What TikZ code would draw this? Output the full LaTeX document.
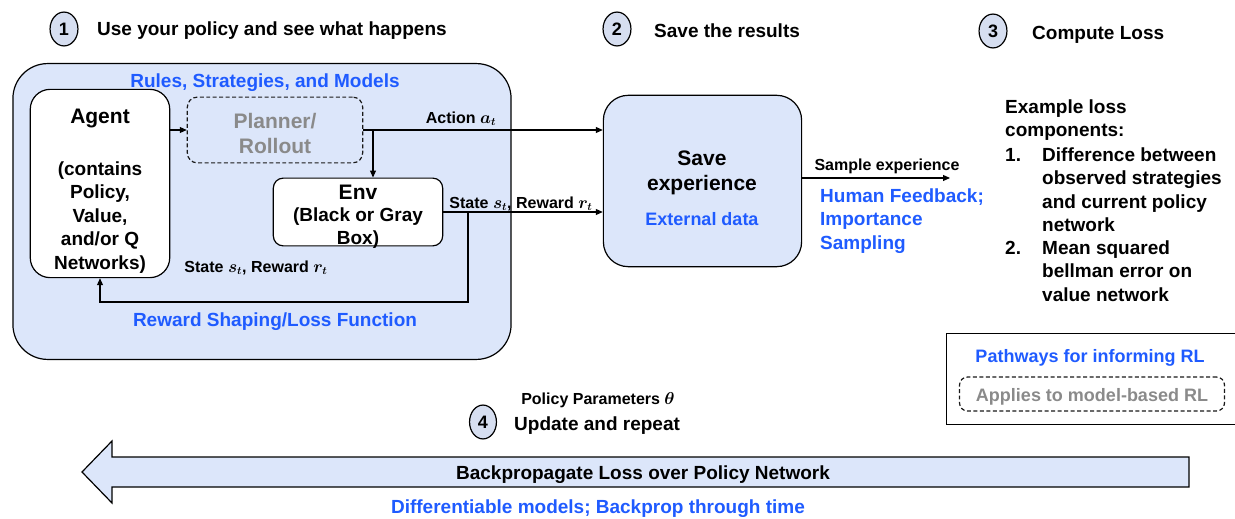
\documentclass[tikz,border=0pt]{standalone}
\usepackage{bm}
\usepackage{fontspec}
\setmainfont{Liberation Sans}
\usetikzlibrary{arrows.meta,shapes.geometric}
\definecolor{bgblue}{HTML}{DCE6FA}
\definecolor{circblue}{HTML}{D6DEF0}
\definecolor{txtblue}{HTML}{1F5BFF}
\definecolor{txtgray}{HTML}{8A8A8A}
\tikzset{
  fT/.style={font={\fontsize{19bp}{23.5bp}\selectfont\bfseries}},
  fL/.style={font={\fontsize{21bp}{25bp}\selectfont\bfseries}},
  fS/.style={font={\fontsize{16bp}{19bp}\selectfont\bfseries}},
  fB/.style={font={\fontsize{18bp}{22bp}\selectfont\bfseries}},
  txt/.style={inner sep=0pt, align=center, yshift=-2.5bp},
  numc/.style={ellipse, draw, line width=1.2pt, fill=circblue, minimum width=28pt, minimum height=34pt, inner sep=0pt, font={\fontsize{18bp}{20bp}\selectfont\bfseries}},
  rbox/.style={draw, line width=1.2pt, rounded corners=#1, inner sep=0pt},
  dbox/.style={draw=black!90, line width=1.2pt, dash pattern=on 4pt off 2.5pt, rounded corners=#1, inner sep=0pt},
  arr/.style={line width=1.1pt, -{Triangle[length=7pt,width=6pt]}},
}
\begin{document}
\begin{tikzpicture}[x=1bp,y=-1bp]
\useasboundingbox (0,0) rectangle (1235,519);
% titles
\node[numc] (c1) at (64,29) {1};
\node[txt,fT,anchor=west] (t1) at (97,28) {Use your policy and see what happens};
\node[numc] (c2) at (617,29) {2};
\node[txt,fT,anchor=west] (t2) at (654,28) {Save the results};
\node[numc] (c3) at (993,31) {3};
\node[txt,fT,anchor=west] (t3) at (1032,32) {Compute Loss};
% big box
\node[rbox=35pt, fill=bgblue, minimum width=500pt, minimum height=297pt] (big) at (262,211.5) {};
\node[txt,fT,text=txtblue] (rules) at (265,80) {Rules, Strategies, and Models};
% agent
\node[rbox=20pt, fill=white, minimum width=140pt, minimum height=189pt] (agent) at (100,183.5) {};
\node[txt,fL] (agentT) at (100,116) {Agent};
\node[txt,fT] (agentB) at (100,215) {(contains\\Policy,\\Value,\\and/or Q\\Networks)};
% planner
\node[dbox=10pt, minimum width=176pt, minimum height=66pt] (planner) at (275,130) {};
\node[txt,fL,text=txtgray] (plannerT) at (275,131) {Planner/\\Rollout};
% env
\node[rbox=10pt, fill=white, minimum width=170pt, minimum height=68pt] (env) at (358,212) {};
\node[txt,fL] (envT) at (358,190) {Env};
\node[txt,fT] (envB) at (358,225.5) {(Black or Gray\\Box)};
% save
\node[rbox=25pt, fill=bgblue, minimum width=199pt, minimum height=172pt] (save) at (702.5,181) {};
\node[txt,fL] (saveT) at (702,170) {Save\\experience};
\node[txt,fB,text=txtblue] (ext) at (702,217) {External data};
% connectors
\draw[arr] (agent.east |- planner.west) -- (planner.west);
\draw[arr] (planner.east) -- (planner.east -| save.west);
\coordinate (jn) at (373,130);
\draw[arr] (jn) -- (jn |- env.north);
\draw[arr] (env.east) -- (env.east -| save.west);
\coordinate (fb) at (468,212);
\coordinate (fbc) at (100,302);
\draw[arr] (fb) |- (fbc) -- (agent.south);
\coordinate (se) at (950,178);
\draw[arr] (save.east |- se) -- (se);
% labels
\node[txt,fS] (actL) at (461,116) {Action $\bm{a_t}$};
\node[txt,fS] (stL1) at (521,201) {State $\bm{s_t}$, Reward $\bm{r_t}$};
\node[txt,fS] (stL2) at (256,265) {State $\bm{s_t}$, Reward $\bm{r_t}$};
\node[txt,fT,text=txtblue] (rs) at (275,319) {Reward Shaping/Loss Function};
\node[txt,fS] (sampL) at (887,164) {Sample experience};
\node[txt,fT,text=txtblue,align=left,anchor=west] (hf) at (820,218.5) {Human Feedback;\\Importance\\Sampling};
% loss list
\node[txt,fT,align=left,anchor=west] (ex) at (1005,117.5) {Example loss\\components:};
\node[txt,fT,anchor=west] (n1) at (1005,152) {1.};
\node[txt,fT,align=left,anchor=west] (l1) at (1042,187) {Difference between\\observed strategies\\and current policy\\network};
\node[txt,fT,anchor=west] (n2) at (1005,245) {2.};
\node[txt,fT,align=left,anchor=west] (l2) at (1042,268.5) {Mean squared\\bellman error on\\value network};
% legend
\node[draw, line width=1pt, minimum width=294pt, minimum height=92pt, inner sep=0pt] (legend) at (1093,379) {};
\node[txt,fB,text=txtblue] (pw) at (1090,355) {Pathways for informing RL};
\node[dbox=8pt, minimum width=266pt, minimum height=34pt] (legd) at (1092,394) {};
\node[txt,fB,text=txtgray] (legdT) at (1092,394) {Applies to model-based RL};
% step 4
\node[txt,fS] (pp) at (598,398) {Policy Parameters $\bm{\theta}$};
\node[numc, minimum width=27pt] (c4) at (483,422) {4};
\node[txt,fT,anchor=west] (t4) at (514,423) {Update and repeat};
\draw[line width=1.2pt, fill=bgblue, line join=miter] (82,472) -- (112,441) -- (112,457) -- (1189,457) -- (1189,487) -- (112,487) -- (112,503) -- cycle;
\node[txt,fT] (bp) at (643,472) {Backpropagate Loss over Policy Network};
\node[txt,fT,text=txtblue] (dm) at (598,506) {Differentiable models; Backprop through time};
\end{tikzpicture}
\end{document}
